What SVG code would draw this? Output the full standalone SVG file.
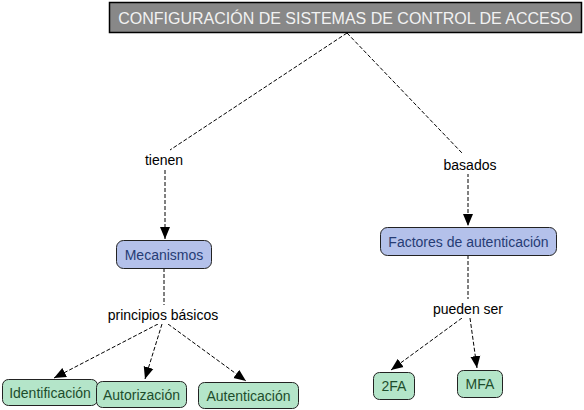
<svg xmlns="http://www.w3.org/2000/svg" width="584" height="410" viewBox="0 0 584 410">
<defs>
<marker id="arr" markerUnits="userSpaceOnUse" markerWidth="12" markerHeight="12" viewBox="0 0 12 12" refX="12" refY="6" orient="auto">
<path d="M0,1 L12,6 L0,11 Z" fill="#000"/>
</marker>
<style>
.c{fill:none;stroke:#000;stroke-width:1;stroke-dasharray:4,2}
.lbl{font-family:"Liberation Sans",Arial,sans-serif;font-size:14px;fill:#000;text-anchor:middle}
.blue rect{fill:#b4c1ea;stroke:#222;stroke-width:1}
.blue text{font-family:"Liberation Sans",Arial,sans-serif;font-size:14px;fill:#263c75;text-anchor:middle}
.green rect{fill:#b4e5c9;stroke:#222;stroke-width:1}
.green text{font-family:"Liberation Sans",Arial,sans-serif;font-size:14px;fill:#1d4d2c;text-anchor:middle}
</style>
</defs>
<rect width="584" height="410" fill="#fff"/>
<g id="connectors">
<path class="c" d="M347,33 L170,150"/>
<path class="c" d="M347,33 L462,153"/>
<path class="c" d="M165,170 L165,239" marker-end="url(#arr)"/>
<path class="c" d="M468,173 L468,226" marker-end="url(#arr)"/>
<path class="c" d="M164,268 L164,305"/>
<path class="c" d="M158,324 L54,378" marker-end="url(#arr)"/>
<path class="c" d="M162,324 L145,379" marker-end="url(#arr)"/>
<path class="c" d="M168,324 L246,381" marker-end="url(#arr)"/>
<path class="c" d="M468,255 L468,299"/>
<path class="c" d="M462,318 L391,370" marker-end="url(#arr)"/>
<path class="c" d="M470,318 L477,368" marker-end="url(#arr)"/>
</g>
<g id="labels">
<rect x="136" y="151" width="56" height="18" fill="#fff"/>
<text class="lbl" x="164" y="165">tienen</text>
<rect x="438" y="156" width="64" height="18" fill="#fff"/>
<text class="lbl" x="470" y="170">basados</text>
<rect x="104" y="306" width="120" height="18" fill="#fff"/>
<text class="lbl" x="163" y="320">principios básicos</text>
<rect x="428" y="300" width="80" height="18" fill="#fff"/>
<text class="lbl" x="468" y="314">pueden ser</text>
</g>
<g id="n-root">
<rect x="109.5" y="2.5" width="472" height="30" fill="#888888" stroke="#000" stroke-width="1.5"/>
<text x="345.5" y="24" font-family="'Liberation Sans',Arial,sans-serif" font-size="16" fill="#f2f2f2" text-anchor="middle">CONFIGURACIÓN DE SISTEMAS DE CONTROL DE ACCESO</text>
</g>
<g id="n-mecanismos" class="blue">
<rect x="116.5" y="240.5" width="95" height="28" rx="7"/>
<text x="164" y="260">Mecanismos</text>
</g>
<g id="n-factores" class="blue">
<rect x="380.5" y="227.5" width="176" height="28" rx="7"/>
<text x="468.5" y="247">Factores de autenticación</text>
</g>
<g id="n-identificacion" class="green">
<rect x="2.5" y="379.5" width="95" height="26" rx="6"/>
<text x="50" y="397.5">Identificación</text>
</g>
<g id="n-autorizacion" class="green">
<rect x="96.5" y="381.5" width="90" height="26" rx="6"/>
<text x="141.5" y="399.5">Autorización</text>
</g>
<g id="n-autenticacion" class="green">
<rect x="198.5" y="382.5" width="100" height="26" rx="6"/>
<text x="248.5" y="400.5">Autenticación</text>
</g>
<g id="n-2fa" class="green">
<rect x="373.5" y="372.5" width="41" height="27" rx="6"/>
<text x="394" y="391">2FA</text>
</g>
<g id="n-mfa" class="green">
<rect x="457.5" y="370.5" width="45" height="27" rx="6"/>
<text x="480" y="389">MFA</text>
</g>
</svg>
